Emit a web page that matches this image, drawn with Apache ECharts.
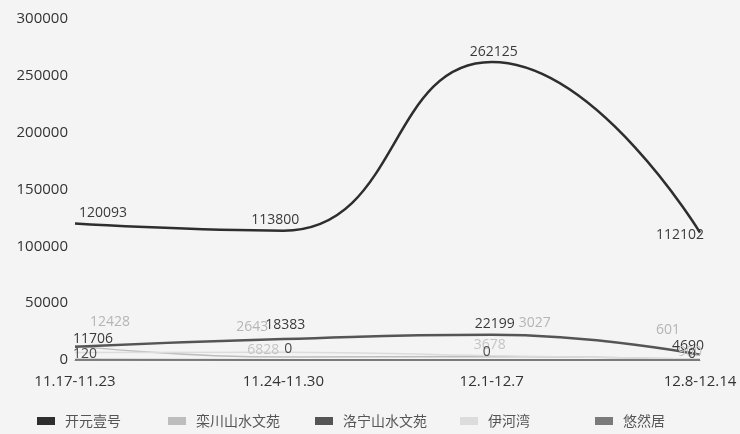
<!DOCTYPE html>
<html>
<head>
<meta charset="utf-8">
<script src="https://cdn.jsdelivr.net/npm/echarts@6/dist/echarts.min.js"></script>
<style>html,body{margin:0;padding:0;background:#f4f4f4;}#c{width:740px;height:434px;}</style>
</head>
<body>
<div id="c"></div>
<script>
const categories = ['11.17-11.23', '11.24-11.30', '12.1-12.7', '12.8-12.14'];
const seriesNames = ['开元壹号', '栾川山水文苑', '洛宁山水文苑', '伊河湾', '悠然居'];
const kaiyuan = [120093, 113800, 262125, 112102];
const luanchuan = [12428, 2643, 3027, 601];
const luoning = [11706, 18383, 22199, 4690];
const yihewan = [6500, 6828, 3678, 900];
const youranju = [120, 0, 0, 0];
const yTicks = [0, 50000, 100000, 150000, 200000, 250000, 300000];

// label nudges (style only): [dx, dy] per series per point
const labelNudge = [
  [[28, 2], [-8, 1], [2, 2], [-20, 14]],
  [[35, -12], [-31, -18], [43, -22], [-32, -17]],
  [[18, 4], [2, -2], [3, 1], [-12, 3]],
  [[18, 5], [-20, 10], [-2, 1], [-10, 5]],
  [[10, 6], [5, 1], [-5, 4], [-8, 6]]
];
const legendLeft = [32, 163, 310, 455, 590];

const colors = ['#2e2e2e', '#bdbdbd', '#555555', '#dcdcdc', '#7a7a7a'];
const labelColors = ['#3a3a3a', '#b5b5b5', '#3a3a3a', '#c4c4c4', '#4a4a4a'];
const widths = [2.5, 1.5, 2.5, 1.5, 2];
const dataSets = [kaiyuan, luanchuan, luoning, yihewan, youranju];
const font = '"Open Sans", "Noto Sans CJK SC", sans-serif';

const chart = echarts.init(document.getElementById('c'));
chart.setOption({
  backgroundColor: '#f4f4f4',
  color: colors,
  textStyle: { fontFamily: font },
  grid: { left: 75, right: 40, top: 19, bottom: 74 },
  legend: seriesNames.map((name, i) => ({
    data: [name],
    bottom: 1,
    left: legendLeft[i],
    itemWidth: 18,
    itemHeight: 8,
    itemGap: 10,
    icon: 'rect',
    textStyle: { fontSize: 14, color: '#555', padding: [0, 0, 0, 5], fontFamily: '"Noto Sans CJK SC", sans-serif' }
  })),
  xAxis: {
    type: 'category',
    data: categories,
    boundaryGap: false,
    axisLine: { lineStyle: { color: '#999' } },
    axisTick: { show: false },
    axisLabel: { fontSize: 15, color: '#333', margin: 14, interval: 0 }
  },
  yAxis: {
    type: 'value',
    min: yTicks[0],
    max: yTicks[yTicks.length - 1],
    interval: 50000,
    axisLine: { show: false },
    axisTick: { show: false },
    splitLine: { show: false },
    axisLabel: { fontSize: 15, color: '#333', margin: 7, formatter: v => String(v) }
  },
  series: seriesNames.map((name, i) => ({
    name,
    type: 'line',
    smooth: true,
    data: dataSets[i],
    symbol: 'circle',
    symbolSize: 0,
    showSymbol: true,
    lineStyle: { width: widths[i], color: colors[i] },
    itemStyle: { color: colors[i] },
    label: {
      show: true, position: 'top', fontSize: 14, color: labelColors[i],
      formatter: p => (i === 3 && p.dataIndex === 0) ? '' : String(p.value)
    },
    labelLayout: p => {
      const n = labelNudge[p.seriesIndex][p.dataIndex];
      return { dx: n[0], dy: n[1] };
    }
  }))
});
</script>
</body>
</html>
